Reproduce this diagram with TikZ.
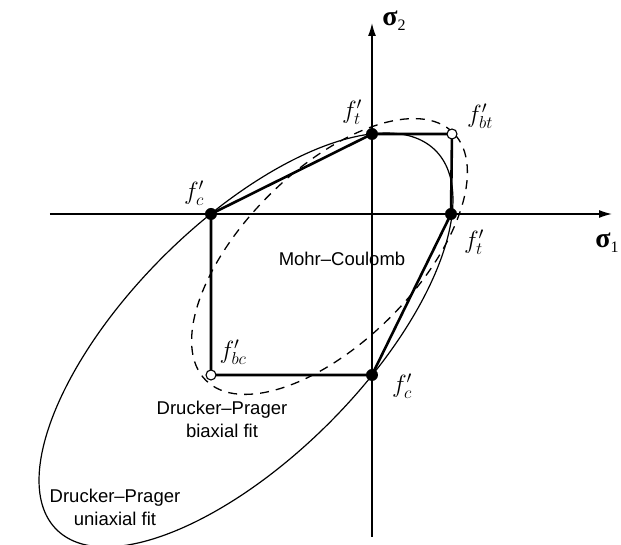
\documentclass[tikz,border=0pt]{standalone}
\usepackage{fontspec}
\setmainfont{Liberation Serif}
\setsansfont{Liberation Sans}
\usetikzlibrary{arrows.meta}
\newcommand{\sigl}[1]{{\fontsize{28}{28}\selectfont\bfseries σ}\raisebox{-5pt}{\fontsize{16}{16}\selectfont #1}}
\begin{document}
\begin{tikzpicture}[x=1pt,y=1pt,
  axisline/.style={line width=1.3pt, -{Latex[length=13pt,width=8pt]}},
  mcline/.style={line width=2.6pt, line join=round},
  dpuni/.style={line width=1.2pt},
  dpbi/.style={line width=1.3pt, dash pattern=on 9pt off 7pt},
  soliddot/.style={circle, fill=black, inner sep=0pt, minimum size=12pt},
  opendot/.style={circle, draw=black, fill=white, line width=1.1pt, inner sep=0pt, minimum size=10pt},
  flab/.style={font=\fontsize{26}{26}\selectfont, inner sep=0pt},
  slab/.style={inner sep=0pt},
  txt/.style={font=\sffamily\fontsize{18.5}{23}\selectfont, align=center, inner sep=0pt},
]
\useasboundingbox (-372,-331) rectangle (249,214);
\clip (-372,-331) rectangle (249,214);
% key points
\coordinate (ftt) at (0,80);
\coordinate (fbt) at (80,80);
\coordinate (ftr) at (79,0);
\coordinate (fcl) at (-161,0);
\coordinate (fbc) at (-161,-161);
\coordinate (fcb) at (0,-161);
% axes
\coordinate (xl) at (-322,0);
\coordinate (xr) at (240,0);
\coordinate (yb) at (0,-323);
\coordinate (yt) at (0,191);
\draw[axisline] (xl) -- (xr);
\draw[axisline] (yb) -- (yt);
% Drucker-Prager uniaxial fit
\coordinate (cu) at (-126,-126);
\draw[dpuni, rotate around={45:(cu)}] (cu) ellipse [x radius=268pt, y radius=117.5pt];
% Drucker-Prager biaxial fit
\coordinate (cb) at (-42.5,-42.5);
\draw[dpbi, rotate around={45:(cb)}] (cb) ellipse [x radius=175pt, y radius=86pt];
% Mohr-Coulomb
\draw[mcline] (fcl) -- (ftt) -- (fbt) -- (ftr) -- (fcb) -- (fbc) -- cycle;
% dots
\node[soliddot] (dftt) at (ftt) {};
\node[soliddot] (dftr) at (ftr) {};
\node[soliddot] (dfcl) at (fcl) {};
\node[soliddot] (dfcb) at (fcb) {};
\node[opendot] (dfbt) at (fbt) {};
\node[opendot] (dfbc) at (fbc) {};
% labels
\node[slab] (s2) at (22,193) {\sigl{2}};
\node[slab] (s1) at (235,-29) {\sigl{1}};
\node[flab] (lftt) at (-20,102) {$f'_{t}$};
\node[flab] (lfbt) at (108,98) {$f'_{bt}$};
\node[flab] (lfcl) at (-178,21) {$f'_{c}$};
\node[flab] (lftr) at (102,-28) {$f'_{t}$};
\node[flab] (lfcb) at (30,-172) {$f'_{c}$};
\node[flab] (lfbc) at (-139,-138) {$f'_{bc}$};
\node[txt] (mc) at (-30,-45) {Mohr–Coulomb};
\node[txt] (dpb) at (-150,-205.5) {Drucker–Prager\\biaxial fit};
\node[txt] (dpu) at (-257,-293) {Drucker–Prager\\uniaxial fit};
\end{tikzpicture}
\end{document}
